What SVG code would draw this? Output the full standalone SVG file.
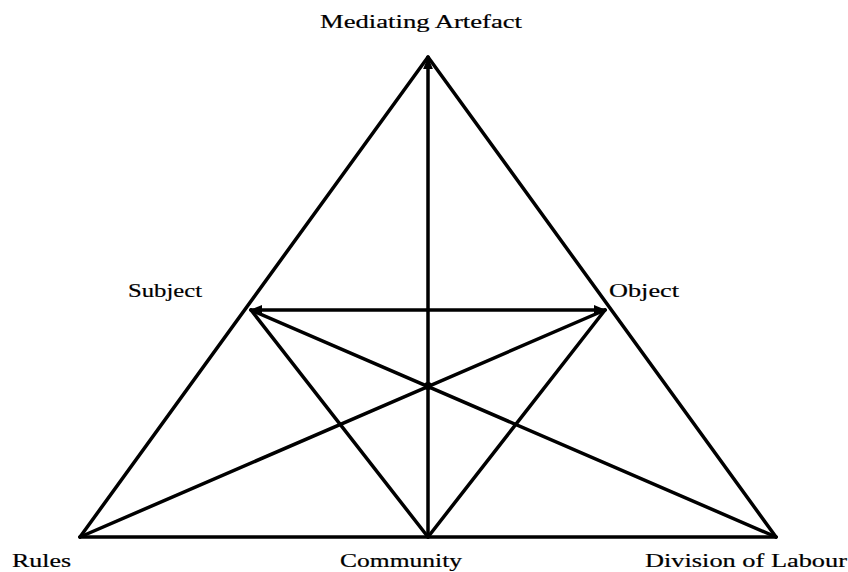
<svg xmlns="http://www.w3.org/2000/svg" width="848" height="572" viewBox="0 0 848 572">
<style>
.c{stroke:#000;stroke-width:3.5;fill:none;stroke-linecap:round}
.t{font-family:"Liberation Serif","Times New Roman",serif;font-size:19px;fill:#000;stroke:#000;stroke-width:0.2}
</style>
<defs>
<marker id="ah" viewBox="0 0 10 8" refX="9" refY="4" markerWidth="3.5" markerHeight="2.8" orient="auto" markerUnits="strokeWidth">
<path d="M0,0 L10,4 L0,8 Z" fill="#000"/>
</marker>
</defs>
<rect width="848" height="572" fill="#fff"/>
<g id="connectors">
<line class="c" x1="80" y1="537" x2="428" y2="57"/>
<line class="c" x1="776" y1="537" x2="428" y2="57"/>
<line class="c" x1="80" y1="537" x2="776" y2="537"/>
<line class="c" x1="428" y1="537" x2="428" y2="58" marker-end="url(#ah)"/>
<line class="c" x1="428" y1="310" x2="251" y2="310" marker-end="url(#ah)"/>
<line class="c" x1="428" y1="310" x2="605" y2="310" marker-end="url(#ah)"/>
<line class="c" x1="251" y1="310" x2="428" y2="537"/>
<line class="c" x1="605" y1="310" x2="428" y2="537"/>
<line class="c" x1="251" y1="310" x2="776" y2="537"/>
<line class="c" x1="605" y1="310" x2="80" y2="537"/>
<circle cx="428" cy="386" r="4" fill="#000"/>
</g>
<g id="mediating-artefact"><text class="t" x="320" y="28" textLength="202" lengthAdjust="spacingAndGlyphs">Mediating Artefact</text></g>
<g id="subject"><text class="t" x="128" y="297" textLength="74" lengthAdjust="spacingAndGlyphs">Subject</text></g>
<g id="object"><text class="t" x="609" y="297" textLength="70" lengthAdjust="spacingAndGlyphs">Object</text></g>
<g id="rules"><text class="t" x="12" y="567" textLength="59" lengthAdjust="spacingAndGlyphs">Rules</text></g>
<g id="community"><text class="t" x="340" y="567" textLength="122" lengthAdjust="spacingAndGlyphs">Community</text></g>
<g id="division-of-labour"><text class="t" x="645" y="567" textLength="202" lengthAdjust="spacingAndGlyphs">Division of Labour</text></g>
</svg>
